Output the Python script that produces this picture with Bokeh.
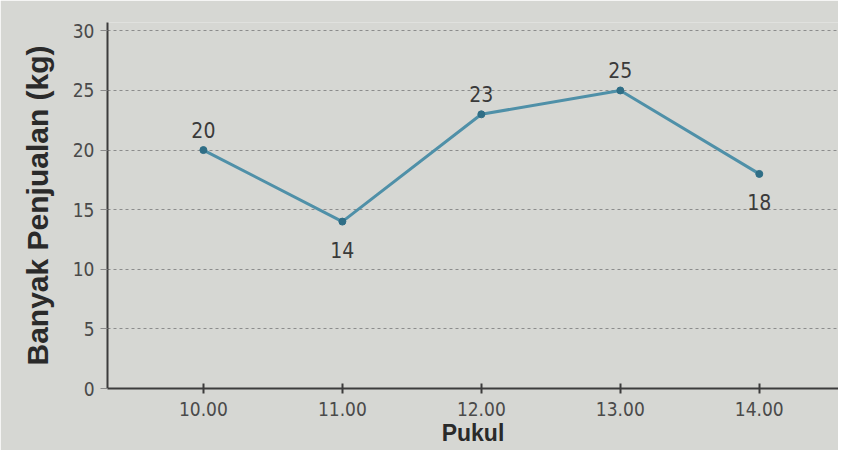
from bokeh.plotting import figure
from bokeh.models import ColumnDataSource, FixedTicker, Range1d, LabelSet
from bokeh.core.properties import value
from bokeh.embed import file_html
from bokeh.resources import INLINE

hours = ["10.00", "11.00", "12.00", "13.00", "14.00"]
sales = [20, 14, 23, 25, 18]
labels = ["20", "14", "23", "25", "18"]
label_above = [True, False, True, True, False]
y_ticks = [0, 5, 10, 15, 20, 25, 30]

xs = list(range(len(hours)))
src = ColumnDataSource(dict(
    x=xs, y=sales, lab=labels,
    dy=[12 if a else -36 for a in label_above],
))

NARROW = "DejaVu Sans Condensed"
BG = "#d6d7d3"
p = figure(width=838, height=450, output_backend="svg", toolbar_location=None,
           x_range=Range1d(-0.69, 4.57), y_range=Range1d(0, 30.7),
           background_fill_color=BG, border_fill_color=BG,
           min_border_left=107, min_border_top=22, min_border_bottom=62,
           min_border_right=0)
p.outline_line_color = None

p.line("x", "y", source=src, line_color="#4f90a8", line_width=3)
p.scatter("x", "y", source=src, size=7, color="#2f6e86")

lbl = LabelSet(x="x", y="y", text="lab", source=src, y_offset="dy",
               text_align="center", text_font=value(NARROW),
               text_font_size="21px", text_color="#3a3a3a")
p.add_layout(lbl)

p.xaxis.ticker = FixedTicker(ticks=xs)
p.xaxis.major_label_overrides = {i: h for i, h in zip(xs, hours)}
p.yaxis.ticker = FixedTicker(ticks=y_ticks)

p.xaxis.axis_label = "Pukul"
p.yaxis.axis_label = "Banyak Penjualan (kg)"
for ax in (p.xaxis, p.yaxis):
    ax.axis_label_text_font = "Liberation Sans"
    ax.axis_label_text_font_style = "bold"
    ax.axis_label_text_color = "#2a2a2a"
    ax.major_label_text_font = NARROW
    ax.major_label_text_font_size = "19px"
    ax.major_label_text_color = "#4a4a4a"
    ax.axis_line_color = "#3c3c3c"
    ax.axis_line_width = 2
    ax.minor_tick_line_color = None

p.xaxis.axis_label_text_font_size = "23px"
p.yaxis.axis_label_text_font_size = "30px"
p.xaxis.major_tick_in = 5
p.xaxis.major_tick_out = 5
p.xaxis.major_tick_line_color = "#3c3c3c"
p.xaxis.major_tick_line_width = 2
p.xaxis.major_label_standoff = 8
p.xaxis.axis_label_standoff = 1
p.yaxis.major_tick_in = 0
p.yaxis.major_tick_out = 7
p.yaxis.major_tick_line_color = "#8a8a8a"
p.yaxis.major_label_standoff = 6
p.yaxis.axis_label_standoff = 16

p.xgrid.grid_line_color = None
p.ygrid.grid_line_color = "#8c8c8c"
p.ygrid.grid_line_dash = "3 3"
p.ygrid.grid_line_width = 1.2

open("out.html", "w").write(file_html(p, INLINE))
